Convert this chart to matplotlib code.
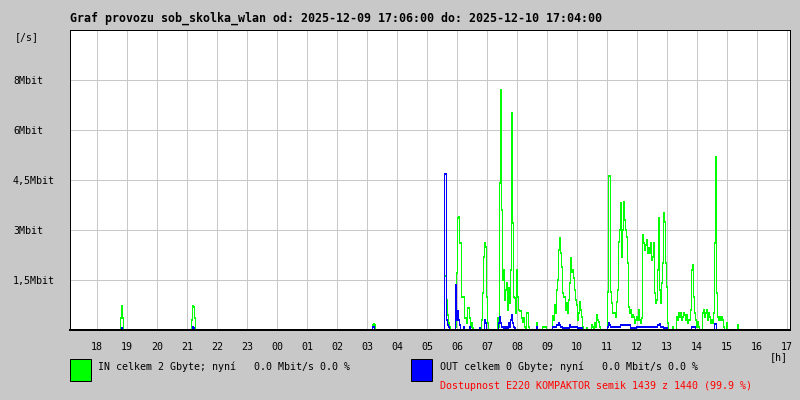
import numpy as np
import matplotlib
matplotlib.use("Agg")
import matplotlib.pyplot as plt
from matplotlib.patches import Rectangle

# ---------------- data ----------------
title = "Graf provozu sob_skolka_wlan od: 2025-12-09 17:06:00 do: 2025-12-10 17:04:00"
start_clock = "17:06"          # first sample of the graph
step_min = 2                   # minutes per sample
n_samples = 720

hour_labels = ["18", "19", "20", "21", "22", "23", "00", "01", "02", "03", "04", "05",
               "06", "07", "08", "09", "10", "11", "12", "13", "14", "15", "16", "17"]
y_ticks = [1.5, 3.0, 4.5, 6.0, 7.5]
y_tick_labels = ["1,5Mbit", "3Mbit", "4,5Mbit", "6Mbit", "8Mbit"]
y_max = 9.0

# IN traffic (Mbit/s), segments of consecutive 2-minute samples
in_starts = ["18:48", "21:10", "03:12", "05:34", "08:40", "11:02"]
in_seg1 = [0.36, 0.72, 0.36]
in_seg2 = [0.30, 0.72, 0.70, 0.36]
in_seg3 = [0.15, 0.18, 0.15]
in_seg4 = [0.0, 1.62, 1.62, 0.9, 0.45, 0.2, 0.1, 0.0, 0.0, 0.0, 0.0, 0.0,
           0.1, 1.7, 3.36, 3.39, 2.6, 2.6, 1.0, 1.0, 1.0, 0.36, 0.36, 0.2,
           0.66, 0.66, 0.36, 0.1, 0.2, 0.05, 0.0, 0.0, 0.0, 0.0, 0.0, 0.0,
           0.05, 0.0, 0.3, 1.1, 2.2, 2.6, 2.5, 1.0, 0.2, 0.0, 0.0, 0.0,
           0.0, 0.0, 0.0, 0.0, 0.0, 0.0, 0.36, 0.1, 4.4, 7.2, 3.6, 1.5,
           1.8, 0.9, 1.2, 1.4, 0.6, 1.26, 0.8, 1.8, 6.5, 3.2, 1.0, 0.96,
           0.5, 1.8, 1.0, 0.6, 0.57, 0.57, 0.36, 0.24, 0.36, 0.1, 0.0, 0.5,
           0.5, 0.1]
in_seg5 = [0.2, 0.0, 0.0, 0.0, 0.0, 0.0, 0.1, 0.1, 0.1, 0.1, 0.0, 0.0,
           0.0, 0.0, 0.0, 0.0, 0.42, 0.3, 0.75, 0.5, 1.2, 1.5, 2.4, 2.76,
           2.3, 1.9, 1.1, 1.0, 1.0, 0.6, 0.8, 0.5, 0.9, 1.4, 2.16, 1.75,
           1.8, 1.55, 1.2, 0.9, 0.75, 0.3, 0.5, 0.84, 0.6, 0.4, 0.1, 0.0,
           0.0, 0.0, 0.06, 0.0, 0.0, 0.0, 0.0, 0.15, 0.1, 0.0, 0.2, 0.1,
           0.45, 0.3, 0.24, 0.1]
in_seg6 = [1.14, 4.62, 4.62, 1.14, 0.8, 0.5, 0.5, 0.5, 0.4, 0.84, 1.2, 2.64,
           3.0, 3.8, 2.2, 3.0, 3.84, 3.3, 3.0, 2.8, 2.0, 0.7, 0.5, 0.6,
           0.4, 0.45, 0.4, 0.2, 0.3, 0.4, 0.3, 0.6, 0.3, 0.2, 0.35, 2.85,
           2.6, 2.4, 2.55, 2.7, 2.3, 2.45, 2.3, 2.6, 2.1, 2.2, 2.6, 1.1,
           0.8, 0.9, 1.8, 3.35, 1.2, 0.8, 1.4, 2.0, 3.5, 3.25, 2.0, 1.3,
           0.2, 0.0, 0.0, 0.0, 0.0, 0.1, 0.0, 0.0, 0.0, 0.4, 0.3, 0.5,
           0.4, 0.5, 0.3, 0.4, 0.5, 0.45, 0.3, 0.45, 0.2, 0.3, 0.3, 0.6,
           1.8, 1.95, 1.0, 0.5, 0.3, 0.1, 0.25, 0.1, 0.0, 0.0, 0.0, 0.5,
           0.6, 0.4, 0.5, 0.6, 0.3, 0.5, 0.4, 0.2, 0.3, 0.2, 0.5, 2.6,
           5.2, 1.1, 0.4, 0.3, 0.4, 0.3, 0.4, 0.3, 0.1, 0.0, 0.0, 0.2,
           0.0, 0.0, 0.0, 0.0, 0.0, 0.0, 0.0, 0.0, 0.0, 0.0, 0.15, 0.0]
in_segs = [in_seg1, in_seg2, in_seg3, in_seg4, in_seg5, in_seg6]

# OUT traffic (Mbit/s)
out_starts = ["18:48", "21:10", "03:12", "05:34", "08:40", "11:02", "13:50", "14:36"]
out_seg1 = [0.0, 0.05, 0.0]
out_seg2 = [0.0, 0.1, 0.05]
out_seg3 = [0.08, 0.08]
out_seg4 = [0.0, 4.68, 4.68, 0.3, 0.15, 0.1, 0.0, 0.0, 0.0, 0.0, 0.0, 0.0,
            1.35, 0.3, 0.57, 0.3, 0.15, 0.0, 0.0, 0.0, 0.1, 0.0, 0.0, 0.0,
            0.0, 0.0, 0.1, 0.0, 0.0, 0.0, 0.0, 0.0, 0.0, 0.0, 0.0, 0.0,
            0.05, 0.0, 0.0, 0.0, 0.0, 0.3, 0.2, 0.0, 0.0, 0.0, 0.0, 0.0,
            0.0, 0.0, 0.0, 0.0, 0.0, 0.0, 0.0, 0.2, 0.4, 0.2, 0.1, 0.1,
            0.05, 0.1, 0.05, 0.1, 0.05, 0.2, 0.1, 0.3, 0.45, 0.2, 0.1, 0.05]
out_seg5 = [0.1, 0.0, 0.0, 0.0, 0.0, 0.0, 0.0, 0.0, 0.0, 0.0, 0.0, 0.0,
            0.0, 0.0, 0.0, 0.0, 0.1, 0.1, 0.1, 0.1, 0.15, 0.15, 0.2, 0.15,
            0.1, 0.1, 0.05, 0.05, 0.05, 0.05, 0.05, 0.05, 0.05, 0.15, 0.1, 0.1,
            0.1, 0.1, 0.1, 0.1, 0.1, 0.05, 0.05, 0.05, 0.05, 0.05]
out_seg6 = [0.1, 0.2, 0.15, 0.1, 0.1, 0.1, 0.1, 0.1, 0.1, 0.1, 0.1, 0.1,
            0.1, 0.15, 0.15, 0.15, 0.15, 0.15, 0.15, 0.15, 0.15, 0.15, 0.15, 0.05,
            0.05, 0.05, 0.05, 0.05, 0.05, 0.1, 0.1, 0.1, 0.1, 0.1, 0.1, 0.1,
            0.1, 0.1, 0.1, 0.1, 0.1, 0.1, 0.1, 0.1, 0.1, 0.1, 0.1, 0.1,
            0.1, 0.1, 0.15, 0.15, 0.18, 0.1, 0.1, 0.1, 0.05, 0.05, 0.05, 0.05]
out_seg7 = [0.1, 0.1, 0.1, 0.1]
out_seg8 = [0.18, 0.18]
out_segs = [out_seg1, out_seg2, out_seg3, out_seg4, out_seg5, out_seg6, out_seg7, out_seg8]

legend_in = "IN celkem 2 Gbyte; nyní   0.0 Mbit/s 0.0 %"
legend_out = "OUT celkem 0 Gbyte; nyní   0.0 Mbit/s 0.0 %"
availability = "Dostupnost E220 KOMPAKTOR semik 1439 z 1440 (99.9 %)"

# ---------------- helpers ----------------
def clock_to_min(s):
    h, m = s.split(":")
    return int(h) * 60 + int(m)

t0 = clock_to_min(start_clock)

def build(starts, segs):
    arr = np.zeros(n_samples)
    for s, seg in zip(starts, segs):
        idx = ((clock_to_min(s) - t0) % 1440) // step_min
        arr[idx:idx + len(seg)] = seg
    return arr

in_vals = build(in_starts, in_segs)
out_vals = build(out_starts, out_segs)
x = np.arange(n_samples) * step_min

# ---------------- figure ----------------
BG = "#c8c8c8"
GRID = "#c8c8c8"
W, H = 800, 400
PX = 72 / 100.0   # one pixel in points
fig = plt.figure(figsize=(8, 4), dpi=100, facecolor=BG)
ax = fig.add_axes([70 / W, 70 / H, 720 / W, 300 / H])
ax.set_facecolor("white")

mono = "DejaVu Sans Mono"

hour_pos = [((clock_to_min(h + ":00") - t0) % 1440) for h in hour_labels]
ax.set_xlim(0, n_samples * step_min)
ax.set_ylim(0, y_max)
ax.set_xticks(hour_pos)
ax.set_xticklabels(hour_labels, family=mono, fontsize=7.2)
ax.set_yticks(y_ticks)
ax.set_yticklabels(y_tick_labels, family=mono, fontsize=7.2, ha="left")
ax.tick_params(axis="x", length=0, pad=8.5)
ax.tick_params(axis="y", length=0, pad=41)
ax.grid(True, color=GRID, lw=PX, antialiased=False)
ax.set_axisbelow(True)
for sp in ax.spines.values():
    sp.set_color("black")
    sp.set_linewidth(PX)
ax.spines["bottom"].set_linewidth(2 * PX)

ax.plot(x, in_vals, drawstyle="steps-mid", color="#00ff00", lw=PX, antialiased=False)
ax.plot(x, out_vals, drawstyle="steps-mid", color="#0000ff", lw=PX, antialiased=False)

def ftext(px, py, s, **kw):
    fig.text(px / W, 1 - py / H, s, **kw)

ftext(70, 18, title, family=mono, fontsize=8.4, fontweight="bold", va="center", ha="left")
ftext(15, 37, "[/s]", family=mono, fontsize=7.2, va="center", ha="left")
ftext(770, 357, "[h]", family=mono, fontsize=7.2, va="center", ha="left")

fig.patches.append(Rectangle((70 / W, 1 - 381 / H), 21 / W, 22 / H, transform=fig.transFigure,
                             facecolor="#00ff00", edgecolor="black", lw=PX))
fig.patches.append(Rectangle((411 / W, 1 - 381 / H), 21 / W, 22 / H, transform=fig.transFigure,
                             facecolor="#0000ff", edgecolor="black", lw=PX))
ftext(98, 367, legend_in, family=mono, fontsize=7.2, va="center", ha="left")
ftext(440, 367, legend_out, family=mono, fontsize=7.2, va="center", ha="left")
ftext(440, 386, availability, family=mono, fontsize=7.2, va="center", ha="left", color="#ff0000")

fig.savefig("out.png", dpi=100, facecolor=BG)
